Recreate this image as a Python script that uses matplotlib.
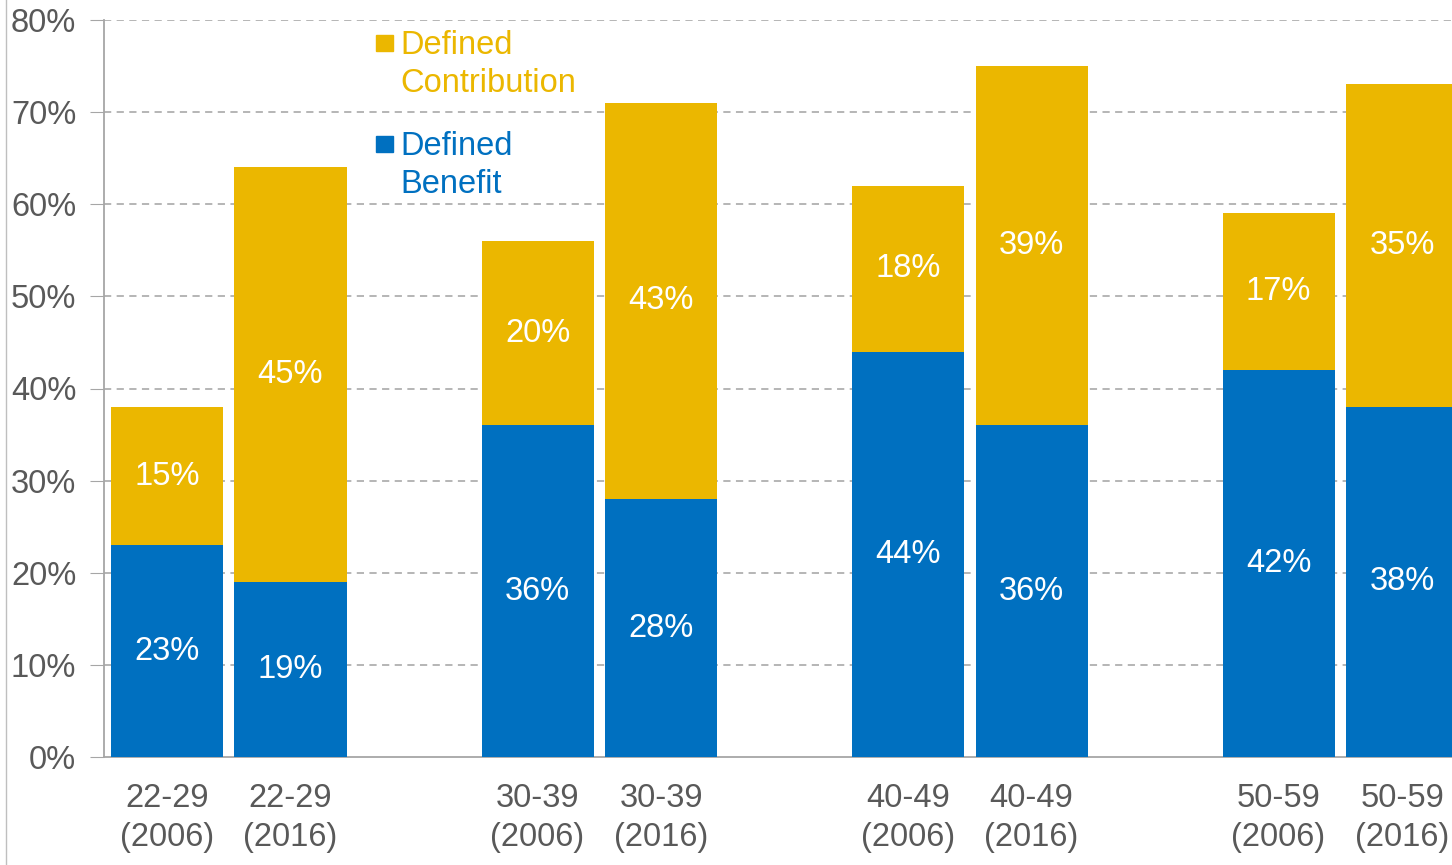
import numpy as np
import matplotlib.pyplot as plt
from matplotlib.patches import Rectangle
from matplotlib.lines import Line2D

plt.rcParams['font.family'] = ['Liberation Sans', 'DejaVu Sans']

age_groups = ["22-29", "22-29", "30-39", "30-39", "40-49", "40-49", "50-59", "50-59"]
years = ["2006", "2016", "2006", "2016", "2006", "2016", "2006", "2016"]
defined_benefit = [23, 19, 36, 28, 44, 36, 42, 38]
defined_contribution = [15, 45, 20, 43, 18, 39, 17, 35]

GOLD = "#EBB700"
BLUE = "#0070C0"
GREY = "#595959"
FS = 23.5

# two bars per age group, a gap between groups
pos = np.array([g * 3 + k for g in range(4) for k in range(2)], dtype=float)

fig = plt.figure(figsize=(14.52, 8.65), dpi=100)
ax = fig.add_axes([104 / 1452, 108 / 865, 1366 / 1452, 737 / 865])

ax.bar(pos, defined_benefit, width=0.907, color=BLUE, zorder=3)
ax.bar(pos, defined_contribution, width=0.907, bottom=defined_benefit,
       color=GOLD, zorder=3)

for x, db, dc in zip(pos, defined_benefit, defined_contribution):
    ax.text(x, db / 2, f"{db}%", ha="center", va="center", color="white",
            fontsize=FS, zorder=4)
    ax.text(x, db + dc / 2, f"{dc}%", ha="center", va="center", color="white",
            fontsize=FS, zorder=4)

ax.set_xlim(-0.51, 10.55)
ax.set_ylim(0, 80)
ax.set_yticks(range(0, 81, 10))
ax.set_yticklabels([f"{v}%" for v in range(0, 81, 10)])
ax.set_xticks(pos)
ax.set_xticklabels([f"{a}\n({y})" for a, y in zip(age_groups, years)])

ax.tick_params(axis="y", length=10, color="#A6A6A6", labelsize=FS,
               labelcolor=GREY, pad=10)
ax.tick_params(axis="x", length=0, labelsize=FS, labelcolor=GREY, pad=19)
for lab in ax.get_xticklabels():
    lab.set_linespacing(1.3)

for v in range(10, 81, 10):
    ax.axhline(v, color="#B0B0B0", lw=1.3, ls=(0, (4, 3)), zorder=1)

for side in ["top", "right"]:
    ax.spines[side].set_visible(False)
ax.spines["left"].set_color("#A6A6A6")
ax.spines["bottom"].set_color("#A6A6A6")
ax.spines["left"].set_linewidth(1.3)
ax.spines["bottom"].set_linewidth(1.3)

# legend drawn by hand: square marker and coloured two-line text
def legend_item(x_px, y_px, label, color):
    fig.patches.append(Rectangle((x_px / 1452, 1 - (y_px + 16) / 865),
                                 17 / 1452, 16 / 865, transform=fig.transFigure,
                                 color=color))
    fig.text((x_px + 24) / 1452, 1 - (y_px - 5) / 865, label, color=color,
             fontsize=FS, va="top", ha="left", linespacing=1.3)

legend_item(376, 35, "Defined\nContribution", GOLD)
legend_item(376, 136, "Defined\nBenefit", BLUE)

# thin frame edge at the far left
fig.lines.append(Line2D([6 / 1452, 6 / 1452], [0, 1], transform=fig.transFigure,
                        color="#BFBFBF", lw=1))

fig.savefig("out.png", dpi=100)
